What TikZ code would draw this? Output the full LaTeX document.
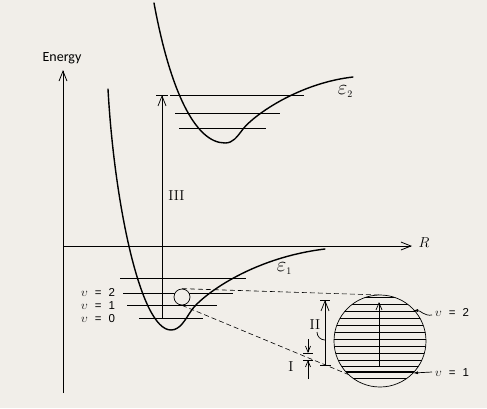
\documentclass[tikz,border=0pt]{standalone}
\usepackage{fontspec}
\newfontfamily\carl{Carlito}
\newfontfamily\lsans{Liberation Sans}
\usetikzlibrary{arrows.meta}
\definecolor{bg}{RGB}{241,238,233}
\newcommand{\vlab}[1]{{\fontsize{12}{14}\selectfont$\upsilon$}\hspace{7pt}{\lsans\fontsize{11.5}{13}\selectfont =\hspace{7pt}#1}}
\newcommand{\elab}[1]{{\fontsize{20.74}{22}\selectfont$\varepsilon$}\raisebox{-3pt}{\fontsize{10}{12}\selectfont #1}}
\begin{document}
\begin{tikzpicture}[x=1pt,y=-1pt,
  curve/.style={line width=1.4pt, line cap=round},
  level/.style={line width=0.7pt},
  thicklevel/.style={line width=1.5pt},
  barb/.style={-{Straight Barb[length=10pt,width=8pt]}},
  smallbarb/.style={-{Straight Barb[length=6pt,width=5pt]}},
  axis/.style={line width=0.8pt, barb},
  dashline/.style={line width=0.6pt, dash pattern=on 5pt off 3pt},
  lbl/.style={inner sep=0pt, font=\fontsize{14.4}{16}\selectfont},
  vlbl/.style={lbl, anchor=west, text height=8pt, text depth=0pt},
]
\fill[bg] (0,0) rectangle (487,408);
\useasboundingbox (0,0) rectangle (487,408);

% axes
\coordinate (Ebot) at (63,393);
\coordinate (Etop) at (63,70);
\coordinate (O) at (63,246);
\coordinate (Rend) at (412,246);
\draw[axis] (Ebot) -- (Etop);
\draw[axis] (O) -- (Rend);
\node[lbl] (energy) at (62,58) {\carl\fontsize{14}{16}\selectfont Energy};
\node[lbl] (R) at (424,243) {$R$};

% epsilon_1 curve
\draw[curve] (108,89) .. controls (114,200) and (140,330) .. (171,330)
  .. controls (180,330) and (185,320) .. (191,311)
  .. controls (200,297) and (250,258) .. (325,249);
% epsilon_2 curve
\draw[curve] (154,3) .. controls (170,90) and (195,143) .. (225,143)
  .. controls (233,143) and (237,137) .. (243,129)
  .. controls (255,114) and (300,83) .. (353,77);

\node[lbl] (e1) at (284,269) {\elab{1}};
\node[lbl] (e2) at (345,92) {\elab{2}};

% levels of epsilon_2
\draw[level] (170,95) -- (304,95);
\draw[level] (175,113) -- (280,113);
\draw[level] (179,128) -- (266,128);

% levels of epsilon_1
\draw[level] (120,278) -- (246,278);
\draw[level] (123,293) -- (233,293);
\draw[level] (127,305) -- (217,305);
\draw[level] (139,318) -- (203,318);

\node[vlbl] (v2) at (81,292.5) {\vlab{2}};
\node[vlbl] (v1) at (81,305) {\vlab{1}};
\node[vlbl] (v0) at (81,318) {\vlab{0}};

% transition III
\coordinate (IIIb) at (162,318);
\coordinate (IIIt) at (162,95);
\draw[level, barb] (IIIb) -- (IIIt);
\draw[level] (156,95) -- (168,95);
\node[lbl] (III) at (176.5,196) {III};

% small circle and magnification lines
\node[draw, line width=0.7pt, fill=bg, circle, minimum size=16pt, inner sep=0pt] (small) at (182,297) {};
\coordinate (big) at (380,341);
\draw[dashline] (small.north) -- (380,295);
\draw[dashline] (small.south) -- (352,376);

% big circle
\begin{scope}
  \clip (big) circle (46);
  \fill[bg] (big) circle (46);
  \foreach \y in {297.5,304.5,318.5,325.5,332.5,339.5,346.5,353.5,360,366,378}
    \draw[level] (330,\y) -- (430,\y);
  \draw[thicklevel] (330,311.5) -- (430,311.5);
  \draw[thicklevel] (330,372) -- (430,372);
\end{scope}
\draw[level] (big) circle (46);
\draw[level, -{Straight Barb[length=7pt,width=6pt]}] (379,366) -- (379,302);

\node[vlbl] (v2r) at (435,312) {\vlab{2}};
\node[vlbl] (v1r) at (435,372) {\vlab{1}};
\draw[level, -{Latex[length=5pt,width=3pt]}] ([xshift=-3pt,yshift=-3pt]v2r.west) to[out=190,in=0] (413,310.5);
\draw[level, -{Latex[length=5pt,width=3pt]}] ([xshift=-3pt]v1r.west) -- (413,373);

% II
\coordinate (IIb) at (325,365);
\coordinate (IIt) at (325,300);
\draw[level, barb] (IIb) -- (IIt);
\draw[level] (320,300) -- (330,300);
\draw[level] (320,365) -- (331,365);
\node[lbl] (II) at (315,325) {II};
\draw[level] (317,332) to[out=-90,in=180] (325,340);

% I
\coordinate (Ia) at (308,353);
\coordinate (Ib) at (308,360);
\draw[level, smallbarb] (308,339) -- (Ia);
\draw[level, smallbarb] (308,379) -- (Ib);
\draw[level] (303,353) -- (313,353);
\draw[level] (303,360) -- (313,360);
\node[lbl] (I) at (291,367) {I};
\end{tikzpicture}
\end{document}
